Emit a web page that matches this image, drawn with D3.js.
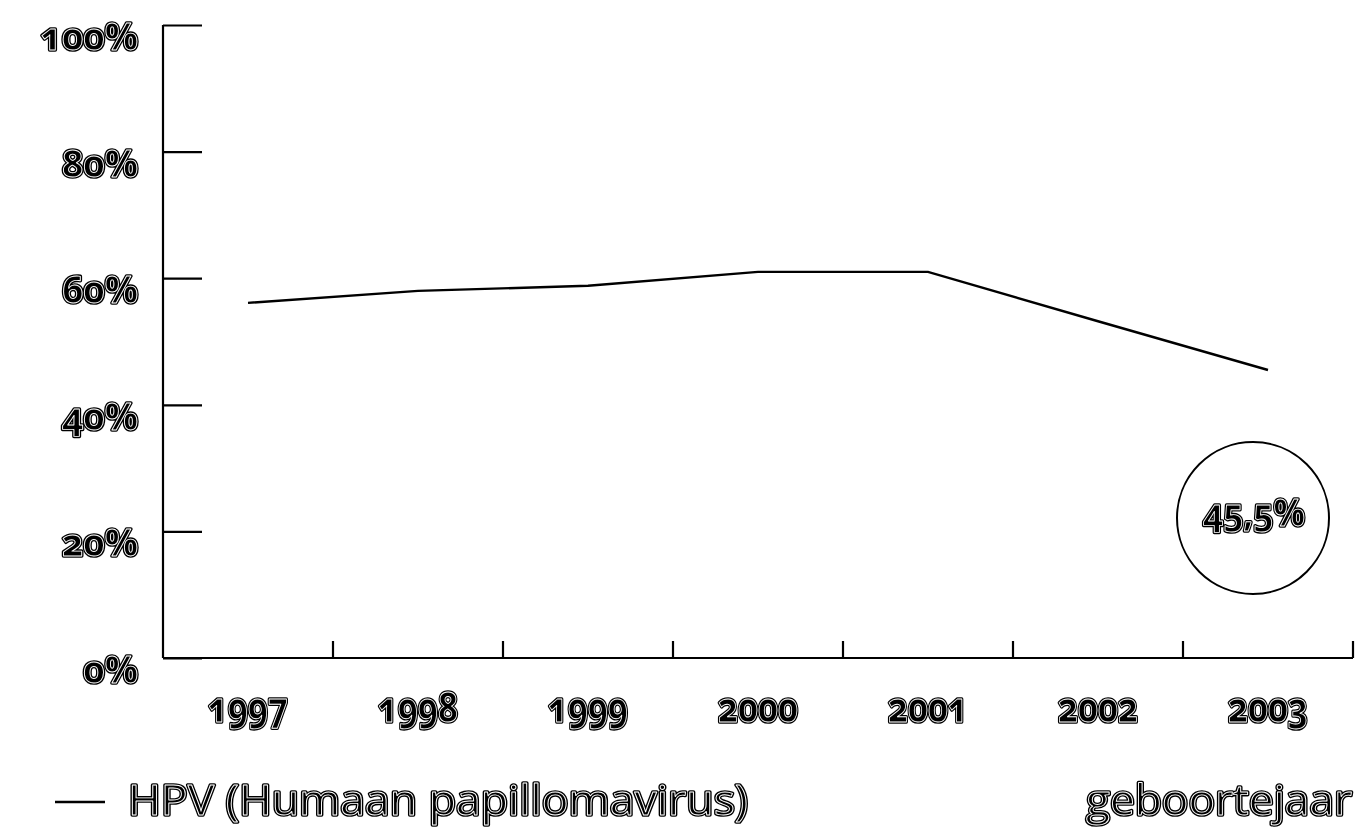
<!DOCTYPE html>
<html><head><meta charset="utf-8">
<script src="https://cdn.jsdelivr.net/npm/d3@7"></script>
<style>body{margin:0;background:#fff} svg{will-change:transform} text.num{font-variant-numeric:oldstyle-nums;font-feature-settings:"onum" 1}</style>
</head><body>
<svg id="c" width="1363" height="827"></svg>
<script>
const years = ["1997","1998","1999","2000","2001","2002","2003"];
const hpv = [56.1, 58.0, 58.8, 61.0, 61.0, 53.2, 45.5];
const yTicks = [0, 20, 40, 60, 80, 100];
const seriesLabel = "HPV (Humaan papillomavirus)";
const xTitle = "geboortejaar";
const highlight = "45,5%";

(function(){
const svg = d3.select("#c");
const mL = 163, mR = 1353, mT = 25, mB = 658;
const x = d3.scaleBand().domain(years).range([mL, mR]);
const y = d3.scaleLinear().domain([0, 100]).range([mB, mT]);

function addText(parent, txt, px, py, size, anchor, family, weight, len, cls) {
  const g = parent.append("g");
  [["#000", 3.6], ["#fff", 0.9]].forEach(([sc, sw]) => {
    const t = g.append("text").attr("class", cls || null).attr("x", px).attr("y", py).attr("text-anchor", anchor)
      .attr("font-family", family).attr("font-weight", weight).attr("font-size", size)
      .attr("fill", "#000").attr("stroke", sc).attr("stroke-width", sw)
      .attr("stroke-linejoin", "round").text(txt);
    if (len) t.attr("textLength", len).attr("lengthAdjust", "spacingAndGlyphs");
  });
  return g;
}

// Y axis
const yAxis = d3.axisRight(y).tickValues(yTicks).tickSize(39).tickFormat("");
const ya = svg.append("g").attr("transform", `translate(${mL},0)`).call(yAxis);
ya.select(".domain").attr("stroke", "#000").attr("stroke-width", 2.2).attr("d", `M0,${mT}V${mB}`);
ya.selectAll(".tick line").attr("stroke", "#000").attr("stroke-width", 2.2);

// X axis
const xa = svg.append("g").attr("transform", `translate(0,${mB})`);
xa.append("line").attr("x1", mL).attr("x2", mR).attr("y1", 0).attr("y2", 0)
  .attr("stroke", "#000").attr("stroke-width", 2.2);
xa.selectAll("line.t").data(years).enter().append("line").attr("class", "t")
  .attr("x1", d => x(d) + x.bandwidth()).attr("x2", d => x(d) + x.bandwidth())
  .attr("y1", 0).attr("y2", -17).attr("stroke", "#000").attr("stroke-width", 2.2);

const FONT_AX = "'Open Sans', Lato, sans-serif";
const FONT_LG = "'Open Sans', 'Noto Sans', sans-serif";

yTicks.forEach(t => addText(svg, t + "%", 138, y(t) + 25, 37, "end", FONT_AX, 700, null, "num"));
years.forEach(d => addText(svg, d, x(d) + x.bandwidth() / 2, 722, 41, "middle", FONT_AX, 700, 80, "num"));

// line
svg.append("path").datum(hpv)
  .attr("d", d3.line().x((d, i) => x(years[i]) + x.bandwidth() / 2).y(d => y(d)))
  .attr("fill", "none").attr("stroke", "#000").attr("stroke-width", 2.4);

// highlight circle
const cx = x("2003") + x.bandwidth() / 2 - 15;
svg.append("circle").attr("cx", cx).attr("cy", 518).attr("r", 76)
  .attr("fill", "none").attr("stroke", "#000").attr("stroke-width", 2);
addText(svg, highlight, cx + 1, 526, 38, "middle", FONT_AX, 700, 102, "num");

// legend
svg.append("line").attr("x1", 55).attr("x2", 105).attr("y1", 802).attr("y2", 802)
  .attr("stroke", "#000").attr("stroke-width", 2.4);
addText(svg, seriesLabel, 128, 815, 42, "start", FONT_LG, 400, 620);
addText(svg, xTitle, 1352, 815, 42, "end", FONT_LG, 400, 266);
})();
</script>
</body></html>
